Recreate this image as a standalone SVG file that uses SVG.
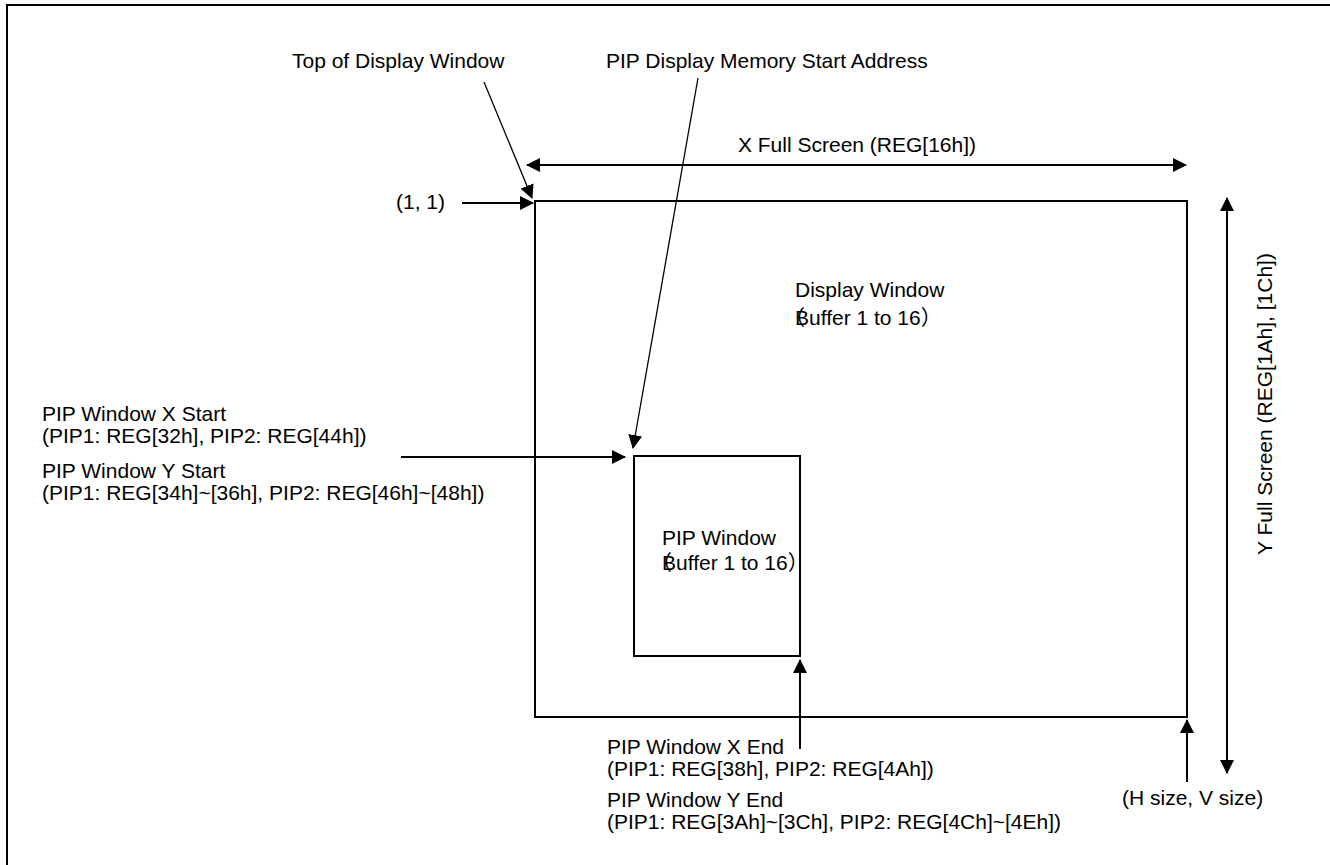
<svg xmlns="http://www.w3.org/2000/svg" width="1330" height="865" viewBox="0 0 1330 865">
<style>
text{font-family:"Liberation Sans",Arial,sans-serif;font-size:21px;fill:#000}
.cjk{font-family:"Noto Sans CJK JP","Liberation Sans",sans-serif}
.box{fill:none;stroke:#000;stroke-width:2}
.ln{fill:none;stroke:#000;stroke-width:1.3}
.ln2{fill:none;stroke:#000;stroke-width:2}
</style>
<defs>
<marker id="ah" markerUnits="userSpaceOnUse" markerWidth="14" markerHeight="14" refX="13" refY="7" orient="auto">
<path d="M0,0 L14,7 L0,14 Z" fill="#000"/>
</marker>
<marker id="as" markerUnits="userSpaceOnUse" markerWidth="14" markerHeight="14" refX="1" refY="7" orient="auto">
<path d="M14,0 L0,7 L14,14 Z" fill="#000"/>
</marker>
</defs>
<rect x="7" y="5" width="1340" height="880" class="box"/>
<g id="display-window">
<rect x="535" y="201" width="652" height="516" class="box"/>
<text x="795" y="297">Display Window</text>
<text x="784" y="325"><tspan class="cjk">（</tspan><tspan x="795">Buffer 1 to 16</tspan><tspan class="cjk">）</tspan></text>
</g>
<g id="pip-window">
<rect x="634" y="456" width="166" height="200" class="box"/>
<text x="662" y="545">PIP Window</text>
<text x="651" y="570"><tspan class="cjk">（</tspan><tspan x="662">Buffer 1 to 16</tspan><tspan class="cjk">）</tspan></text>
</g>
<g id="labels">
<text x="292" y="68">Top of Display Window</text>
<text x="606" y="68">PIP Display Memory Start Address</text>
<text x="857" y="152" text-anchor="middle">X Full Screen (REG[16h])</text>
<text x="396" y="209">(1, 1)</text>
<text x="42" y="421">PIP Window X Start</text>
<text x="42" y="443">(PIP1: REG[32h], PIP2: REG[44h])</text>
<text x="42" y="478">PIP Window Y Start</text>
<text x="42" y="500">(PIP1: REG[34h]~[36h], PIP2: REG[46h]~[48h])</text>
<text x="607" y="754">PIP Window X End</text>
<text x="607" y="776">(PIP1: REG[38h], PIP2: REG[4Ah])</text>
<text x="607" y="807">PIP Window Y End</text>
<text x="607" y="829">(PIP1: REG[3Ah]~[3Ch], PIP2: REG[4Ch]~[4Eh])</text>
<text x="1122" y="805">(H size, V size)</text>
<text transform="translate(1272,404) rotate(-90)" text-anchor="middle">Y Full Screen (REG[1Ah], [1Ch])</text>
</g>
<g id="connectors">
<line x1="484" y1="82" x2="532" y2="198" class="ln" marker-end="url(#ah)"/>
<line x1="698" y1="78" x2="633" y2="448" class="ln" marker-end="url(#ah)"/>
<line x1="462" y1="203" x2="533" y2="203" class="ln2" marker-end="url(#ah)"/>
<line x1="527" y1="165" x2="1186" y2="165" class="ln2" marker-start="url(#as)" marker-end="url(#ah)"/>
<line x1="1227" y1="198" x2="1227" y2="773" class="ln2" marker-start="url(#as)" marker-end="url(#ah)"/>
<line x1="401" y1="457" x2="625" y2="457" class="ln2" marker-end="url(#ah)"/>
<line x1="800" y1="749" x2="800" y2="660" class="ln2" marker-end="url(#ah)"/>
<line x1="1187" y1="782" x2="1187" y2="720" class="ln2" marker-end="url(#ah)"/>
</g>
</svg>
